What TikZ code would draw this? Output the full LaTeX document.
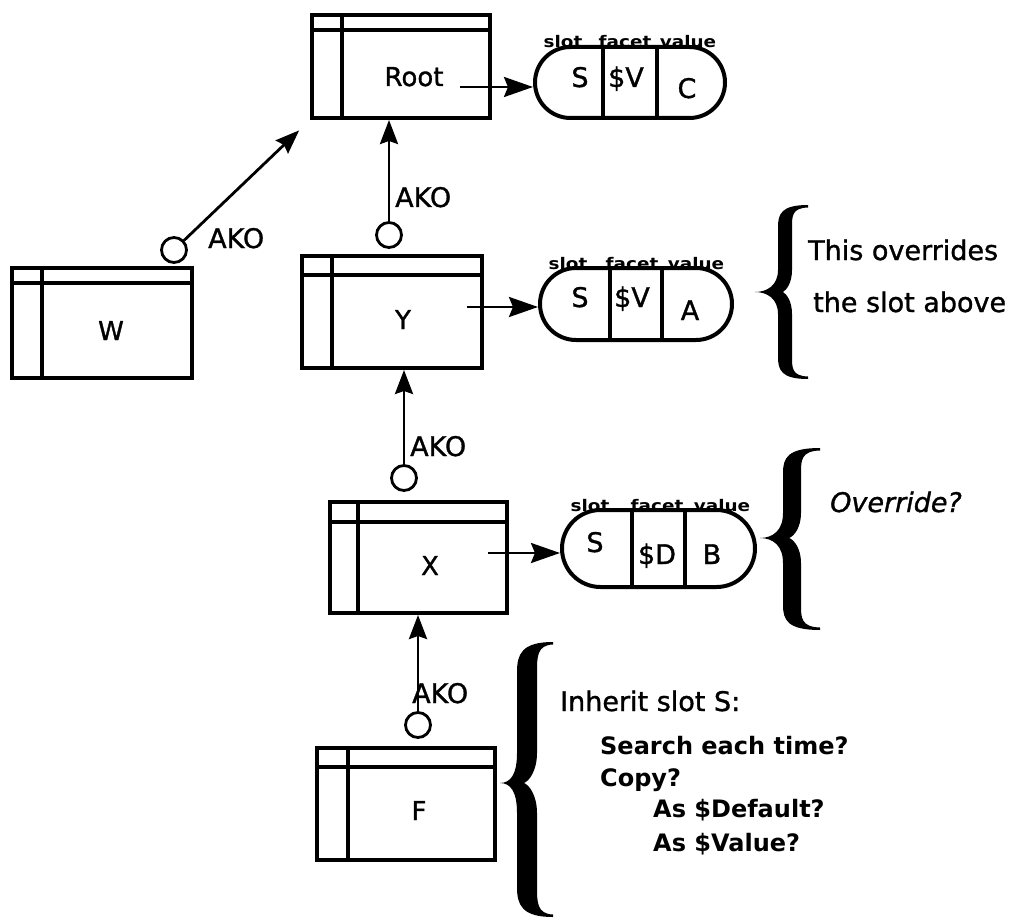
\documentclass[tikz,border=0pt]{standalone}
\usepackage{fontspec}
\setmainfont{DejaVu Sans}
\newfontfamily\medfont{DejaVu Sans}[FakeBold=1.2]
\newfontfamily\meditfont{DejaVu Sans Oblique}[FakeBold=1.2]
\usepackage{graphicx}
\usetikzlibrary{arrows.meta,shapes.misc,fit}

% frame box: name, x1, y1, x2, y2, header y, vertical x
\newcommand\kbox[7]{%
  \coordinate (#1-nw) at (#2,#3);
  \coordinate (#1-se) at (#4,#5);
  \node[fbox, fit=(#1-nw)(#1-se)] (#1) {};
  \draw[innerln] (#2,#6) -- (#4,#6);
  \draw[innerln] (#7,#3) -- (#7,#5);
}
% brace: xtip, ytop, ytip, ybot, xspine, xend, halfthick, radius
\newcommand\bigbrace[8]{%
  \fill (#6,#2) .. controls ({#5-0.5*#7},#2) and ({#5-#7},{#2+0.4*#8}) .. ({#5-#7},{#2+#8})
    -- ({#5-#7},{#3-#8}) .. controls ({#5-#7},{#3-0.3*#8}) and ({#1+0.4*(#5-#1)},#3) .. (#1,#3)
    .. controls ({#1+0.4*(#5-#1)},#3) and ({#5-#7},{#3+0.3*#8}) .. ({#5-#7},{#3+#8})
    -- ({#5-#7},{#4-#8}) .. controls ({#5-#7},{#4-0.4*#8}) and ({#5-0.5*#7},#4) .. (#6,#4)
    -- (#6,{#4-2.5}) .. controls ({#5+#7},{#4-3}) and ({#5+#7},{#4-0.5*#8}) .. ({#5+#7},{#4-#8})
    -- ({#5+#7},{#3+#8}) .. controls ({#5+#7},{#3+0.4*#8}) and ({#5+0.2*#7},{#3+2}) .. ({#5-0.3*#7},#3)
    .. controls ({#5+0.2*#7},{#3-2}) and ({#5+#7},{#3-0.4*#8}) .. ({#5+#7},{#3-#8})
    -- ({#5+#7},{#2+#8}) .. controls ({#5+#7},{#2+0.5*#8}) and ({#5+#7},{#2+3}) .. (#6,{#2+2.5}) -- cycle;
}

\begin{document}
\begin{tikzpicture}[x=1pt,y=-1pt,
  fbox/.style={draw, line width=4pt, inner sep=0pt},
  innerln/.style={line width=3.4pt},
  pillst/.style={draw, line width=4pt, rounded rectangle, inner sep=0pt},
  pillln/.style={line width=3.4pt},
  lab/.style={anchor=base, inner sep=0pt, font=\fontsize{16}{16}\selectfont\bfseries},
  plet/.style={anchor=base, inner sep=0pt, font=\fontsize{27}{30}\medfont},
  btxt/.style={anchor=base, inner sep=0pt, font=\fontsize{26}{30}\medfont},
  circ/.style={draw, circle, line width=2.8pt, minimum size=25pt, inner sep=0pt},
  akoarr/.style={line width=2.8pt, -{Stealth[length=24pt,width=18pt,inset=3pt]}},
  arr/.style={line width=2.8pt, -{Stealth[length=29pt,width=20pt,inset=4pt]}},
  akolab/.style={anchor=base west, inner sep=0pt, font=\fontsize{27}{30}\medfont},
  txt/.style={anchor=base west, inner sep=0pt, font=\fontsize{27}{30}\medfont},
  itxt/.style={anchor=base west, inner sep=0pt, font=\fontsize{27}{30}\meditfont},
  bt/.style={anchor=base west, inner sep=0pt, font=\fontsize{24}{28}\selectfont\bfseries}
]
\useasboundingbox (0,0) rectangle (1018,923);

% frames
\kbox{root}{312}{15}{490}{118}{30}{342}
\node[btxt] (root-t) at (414,86) {Root};
\kbox{y}{302}{256}{482}{368}{275}{332}
\node[btxt] (y-t) at (403,329) {Y};
\kbox{x}{330}{502}{507}{613}{522}{358}
\node[btxt] (x-t) at (430,575) {X};
\kbox{w}{12}{268}{192}{378}{283}{42}
\node[btxt] (w-t) at (111,340) {W};
\kbox{f}{317}{748}{495}{860}{767}{348}
\node[btxt] (f-t) at (419,820) {F};

% slot pills
\node[pillst, minimum width=190pt, minimum height=71pt] (rootp) at (630,82.5) {};
\draw[pillln] (603,47) -- (603,118);
\draw[pillln] (657,47) -- (657,118);
\node[lab] (rootp-l1) at (563,48) {\scalebox{1.15}[1]{slot}};
\node[lab] (rootp-l2) at (625,48) {\scalebox{1.15}[1]{facet}};
\node[lab] (rootp-l3) at (688,48) {\scalebox{1.15}[1]{value}};
\node[plet] (rootp-s) at (580,87) {S};
\node[plet] (rootp-f) at (626,87) {\$V};
\node[plet] (rootp-v) at (687,98) {C};

\node[pillst, minimum width=192pt, minimum height=72pt] (yp) at (636,304) {};
\draw[pillln] (610,268) -- (610,340);
\draw[pillln] (662,268) -- (662,340);
\node[lab] (yp-l1) at (568,269) {\scalebox{1.15}[1]{slot}};
\node[lab] (yp-l2) at (632,269) {\scalebox{1.15}[1]{facet}};
\node[lab] (yp-l3) at (696,269) {\scalebox{1.15}[1]{value}};
\node[plet] (yp-s) at (580,307) {S};
\node[plet] (yp-f) at (632,307) {\$V};
\node[plet] (yp-v) at (690,320) {A};

\node[pillst, minimum width=193pt, minimum height=77pt] (xp) at (658.5,548.5) {};
\draw[pillln] (632,510) -- (632,587);
\draw[pillln] (685,510) -- (685,587);
\node[lab] (xp-l1) at (590,511) {\scalebox{1.15}[1]{slot}};
\node[lab] (xp-l2) at (657,511) {\scalebox{1.15}[1]{facet}};
\node[lab] (xp-l3) at (722,511) {\scalebox{1.15}[1]{value}};
\node[plet] (xp-s) at (595,552) {S};
\node[plet] (xp-f) at (657,564) {\$D};
\node[plet] (xp-v) at (712,564) {B};

% frame -> slot arrows
\coordinate (root-a) at (460,87);
\draw[arr] (root-a) -- (root-a -| rootp.west);
\coordinate (y-a) at (467,307);
\draw[arr] (y-a) -- (y-a -| yp.west);
\coordinate (x-a) at (488,553);
\draw[arr] (x-a) -- (x-a -| xp.west);

% AKO links
\node[circ] (wc) at (174,250) {};
\draw[akoarr, shorten >=15pt] (wc) -- (root.south west);
\node[akolab] (wl) at (208,248) {AKO};

\node[circ] (yc) at (389,235) {};
\draw[akoarr] (yc) -- (yc |- root.south);
\node[akolab] (yl) at (395,207) {AKO};

\node[circ] (xc) at (404,478) {};
\draw[akoarr] (xc) -- (xc |- y.south);
\node[akolab] (xl) at (410,456) {AKO};

\node[circ] (fc) at (418,725) {};
\draw[akoarr] (fc) -- (fc |- x.south);
\node[akolab] (fl) at (412,703) {AKO};

% braces
\bigbrace{755}{205}{292}{379}{785}{808}{7}{22}
\bigbrace{760}{448}{538}{630}{792}{820}{9}{25}
\bigbrace{500}{642}{783}{917}{527}{553}{10}{30}

% notes
\node[txt] (n1) at (808,260) {This overrides};
\node[txt] (n2) at (813,312) {the slot above};
\node[itxt] (n3) at (830,512) {Override?};
\node[txt] (n4) at (560,711) {Inherit slot S:};
\node[bt] (n5) at (600,754) {Search each time?};
\node[bt] (n6) at (600,786) {Copy?};
\node[bt] (n7) at (653,817) {As \$Default?};
\node[bt] (n8) at (653,851) {As \$Value?};
\end{tikzpicture}
\end{document}
